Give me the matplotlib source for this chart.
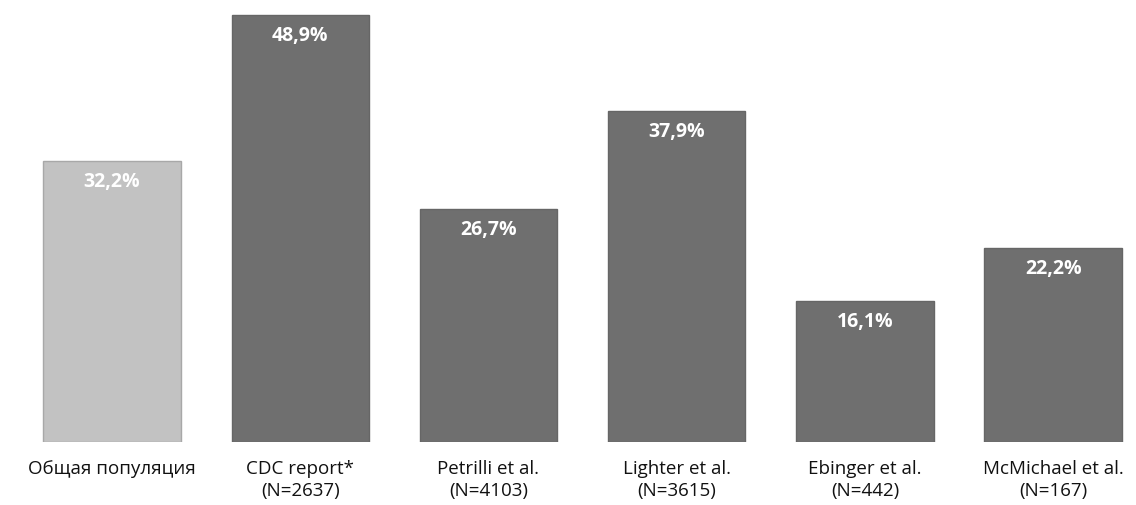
import matplotlib.pyplot as plt
import numpy as np

categories = ["Общая популяция", "CDC report*\n(N=2637)", "Petrilli et al.\n(N=4103)",
              "Lighter et al.\n(N=3615)", "Ebinger et al.\n(N=442)", "McMichael et al.\n(N=167)"]
values = [32.2, 48.9, 26.7, 37.9, 16.1, 22.2]
labels = ["32,2%", "48,9%", "26,7%", "37,9%", "16,1%", "22,2%"]

plt.rcParams['font.family'] = ['Open Sans', 'DejaVu Sans']

fig = plt.figure(figsize=(11.36, 5.05), dpi=100)
ax = fig.add_axes([0, 0.125, 1, 0.875])

x = np.arange(len(values))
colors = ["#c2c2c2"] + ["#6f6f6f"] * 5
edges = ["#a8a8a8"] + ["#666666"] * 5
ax.bar(x, values, width=0.73, color=colors, edgecolor=edges, linewidth=1)

for xi, v, lab in zip(x, values, labels):
    ax.annotate(lab, (xi, v), xytext=(0, -15), textcoords="offset points",
                ha="center", va="center", color="white", fontsize=14,
                fontweight="bold")

ax.set_xlim(-0.595, 5.44)
ax.set_ylim(0, 50.6)
ax.set_xticks(x)
ax.set_xticklabels(categories, fontsize=13.5, color="#111111", linespacing=1.3)
ax.tick_params(axis="x", length=0, pad=13)
ax.set_yticks([])
for s in ax.spines.values():
    s.set_visible(False)

fig.savefig("out.png", dpi=100)
